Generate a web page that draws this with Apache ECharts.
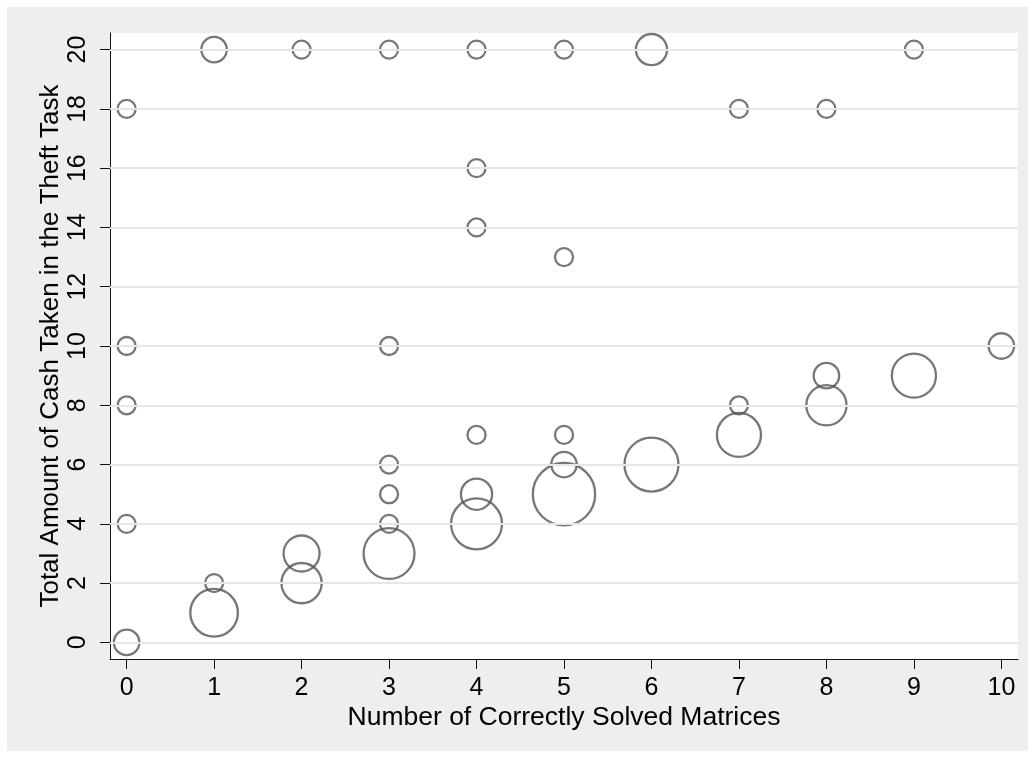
<!DOCTYPE html>
<html>
<head>
<meta charset="utf-8">
<script src="https://cdn.jsdelivr.net/npm/echarts@6/dist/echarts.min.js"></script>
<style>
html,body{margin:0;padding:0;background:#fff;}
#c{width:1035px;height:758px;}
</style>
</head>
<body>
<div id="c"></div>
<script>
// Number of correctly solved matrices (x) vs total cash taken (y); counts = number of participants
const solved = [0,0,0,0,0, 1,1,1, 2,2,2, 3,3,3,3,3,3, 4,4,4,4,4,4, 5,5,5,5,5, 6,6, 7,7,7, 8,8,8, 9,9, 10];
const cash   = [0,4,8,10,18, 1,2,20, 2,3,20, 3,4,5,6,10,20, 4,5,7,14,16,20, 5,6,7,13,20, 6,20, 7,8,18, 8,9,18, 9,20, 10];
const counts = [2,1,1,1,1, 7,1,2, 5,4,1, 8,1,1,1,1,1, 8,3,1,1,1,1, 12,2,1,1,1, 9,3, 6,1,1, 5,2,1, 6,1, 2];
const xTicks = [0,1,2,3,4,5,6,7,8,9,10];
const yTicks = [0,2,4,6,8,10,12,14,16,18,20];
const xTitle = 'Number of Correctly Solved Matrices';
const yTitle = 'Total Amount of Cash Taken in the Theft Task';

const FONT = 'Liberation Sans, Arial, sans-serif';
const points = solved.map((x, i) => [x, cash[i], counts[i]]);

const chart = echarts.init(document.getElementById('c'), null, {renderer: 'canvas'});
chart.setOption({
  animation: false,
  backgroundColor: '#ffffff',
  graphic: [{
    type: 'rect', z: -100, silent: true,
    shape: {x: 7, y: 7, width: 1021, height: 744},
    style: {fill: '#eeeeee'}
  }],
  grid: {
    left: 110, right: 17, top: 33, bottom: 99,
    show: true, backgroundColor: '#ffffff', borderWidth: 0
  },
  xAxis: {
    type: 'value', min: -0.19, max: 10.19,
    axisLine: {show: true, onZero: false, lineStyle: {color: '#111', width: 1}},
    axisTick: {show: true, length: 10, customValues: xTicks, lineStyle: {color: '#111', width: 1}},
    axisLabel: {show: true, customValues: xTicks, margin: 17, color: '#000', fontSize: 25, fontFamily: FONT},
    splitLine: {show: false},
    name: xTitle, nameLocation: 'middle', nameGap: 45, nameMoveOverlap: false,
    nameTextStyle: {color: '#000', fontSize: 26.5, fontFamily: FONT}
  },
  yAxis: {
    type: 'value', min: -0.56, max: 20.56,
    axisLine: {show: true, onZero: false, lineStyle: {color: '#111', width: 1}},
    axisTick: {show: true, length: 10, customValues: yTicks, lineStyle: {color: '#111', width: 1}},
    axisLabel: {show: true, customValues: yTicks, rotate: 90, margin: 19, color: '#000', fontSize: 25, fontFamily: FONT},
    splitLine: {show: false},
    name: yTitle, nameLocation: 'middle', nameGap: 46, nameRotate: 90, nameMoveOverlap: false,
    nameTextStyle: {color: '#000', fontSize: 26, fontFamily: FONT}
  },
  series: [
    {
      type: 'scatter', data: [], z: 1, silent: true,
      markLine: {
        silent: true, symbol: 'none', animation: false,
        label: {show: false},
        lineStyle: {color: '#e6e6e6', width: 2, type: 'solid'},
        emphasis: {disabled: true},
        data: yTicks.map(v => ({yAxis: v}))
      }
    },
    {
      type: 'scatter', z: 3, silent: true,
      data: points,
      symbol: 'circle',
      symbolSize: d => 18 * Math.sqrt(d[2]),
      itemStyle: {color: 'rgba(0,0,0,0)', borderColor: '#555555', borderWidth: 2.3},
      clip: false
    }
  ]
});
</script>
</body>
</html>
